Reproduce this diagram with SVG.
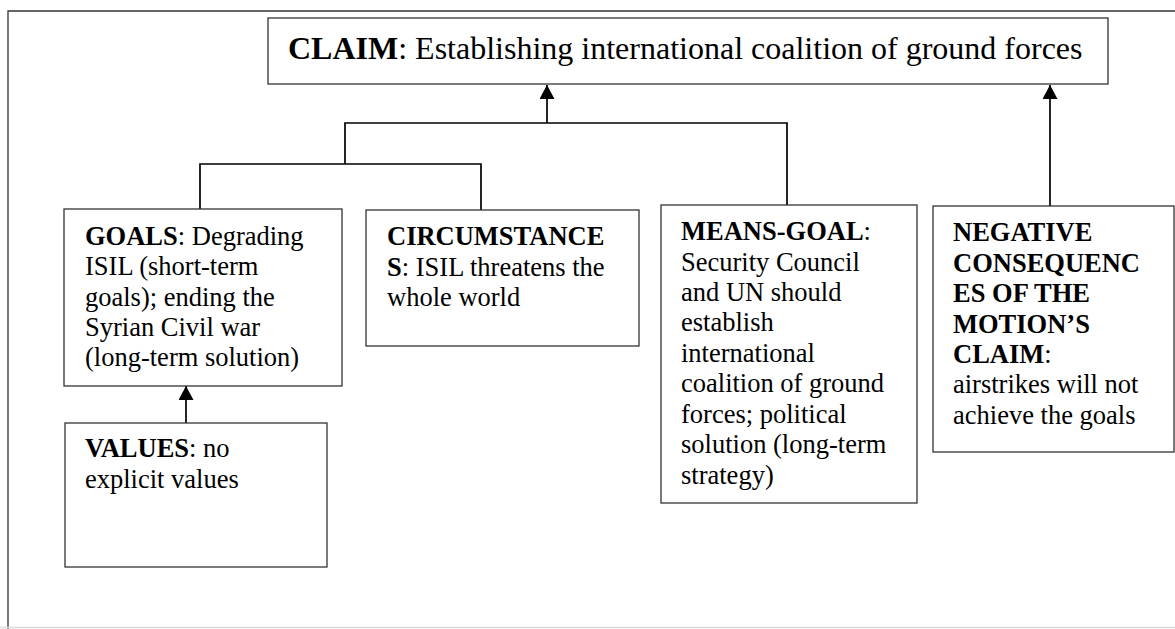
<svg xmlns="http://www.w3.org/2000/svg" width="1175" height="629" viewBox="0 0 1175 629">
<defs>
<style>
.box{fill:#fff;stroke:#333;stroke-width:1.3}
.frame{fill:none;stroke:#333;stroke-width:1.3}
.con{fill:none;stroke:#000;stroke-width:1.7}
.t{font-family:"Liberation Serif","Times New Roman",serif;font-size:26.5px;fill:#000}
.c{font-size:32px}
.b{font-weight:bold}
</style>
<marker id="ah" viewBox="0 0 14 15" refX="14" refY="7.5" markerWidth="14" markerHeight="15" markerUnits="userSpaceOnUse" orient="auto">
<path d="M0,0 L14,7.5 L0,15 Z" fill="#000"/>
</marker>
</defs>
<rect width="1175" height="629" fill="#fff"/>
<g id="frame">
<path class="frame" d="M8,629 L8,11 L1175,11"/>
<line x1="0" y1="627.5" x2="1175" y2="627.5" stroke="#d9d9d9" stroke-width="1.5"/>
</g>
<g id="connectors">
<line class="con" x1="547" y1="123" x2="547" y2="85" marker-end="url(#ah)"/>
<path class="con" d="M345,164 L345,123 L787,123 L787,205"/>
<path class="con" d="M200,209 L200,164 L481,164 L481,210"/>
<line class="con" x1="1050" y1="206" x2="1050" y2="85" marker-end="url(#ah)"/>
<line class="con" x1="186" y1="423" x2="186" y2="386" marker-end="url(#ah)"/>
</g>
<g id="claim">
<rect class="box" x="268" y="18" width="840" height="66"/>
<text class="t c" x="288" y="59"><tspan class="b">CLAIM</tspan>: Establishing international coalition of ground forces</text>
</g>
<g id="goals">
<rect class="box" x="64" y="209" width="278" height="177"/>
<text class="t" x="85" y="245"><tspan class="b">GOALS</tspan>: Degrading</text>
<text class="t" x="85" y="275">ISIL (short-term</text>
<text class="t" x="85" y="305.5">goals); ending the</text>
<text class="t" x="85" y="336">Syrian Civil war</text>
<text class="t" x="85" y="366">(long-term solution)</text>
</g>
<g id="values">
<rect class="box" x="65" y="423" width="262" height="144"/>
<text class="t" x="85" y="457"><tspan class="b">VALUES</tspan>: no</text>
<text class="t" x="85" y="488">explicit values</text>
</g>
<g id="circumstances">
<rect class="box" x="366" y="210" width="273" height="136"/>
<text class="t" x="387" y="245"><tspan class="b">CIRCUMSTANCE</tspan></text>
<text class="t" x="387" y="275.5"><tspan class="b">S</tspan>: ISIL threatens the</text>
<text class="t" x="387" y="306">whole world</text>
</g>
<g id="means-goal">
<rect class="box" x="661" y="205" width="256" height="298"/>
<text class="t" x="681" y="240"><tspan class="b">MEANS-GOAL</tspan>:</text>
<text class="t" x="681" y="270.5">Security Council</text>
<text class="t" x="681" y="301">and UN should</text>
<text class="t" x="681" y="331">establish</text>
<text class="t" x="681" y="361.5">international</text>
<text class="t" x="681" y="392">coalition of ground</text>
<text class="t" x="681" y="422.5">forces; political</text>
<text class="t" x="681" y="453">solution (long-term</text>
<text class="t" x="681" y="484">strategy)</text>
</g>
<g id="negative-consequences">
<rect class="box" x="933" y="206" width="241" height="246"/>
<text class="t b" x="953" y="241">NEGATIVE</text>
<text class="t b" x="953" y="271.5">CONSEQUENC</text>
<text class="t b" x="953" y="302">ES OF THE</text>
<text class="t b" x="953" y="332.5">MOTION’S</text>
<text class="t" x="953" y="363"><tspan class="b">CLAIM</tspan>:</text>
<text class="t" x="953" y="393">airstrikes will not</text>
<text class="t" x="953" y="424">achieve the goals</text>
</g>
</svg>
